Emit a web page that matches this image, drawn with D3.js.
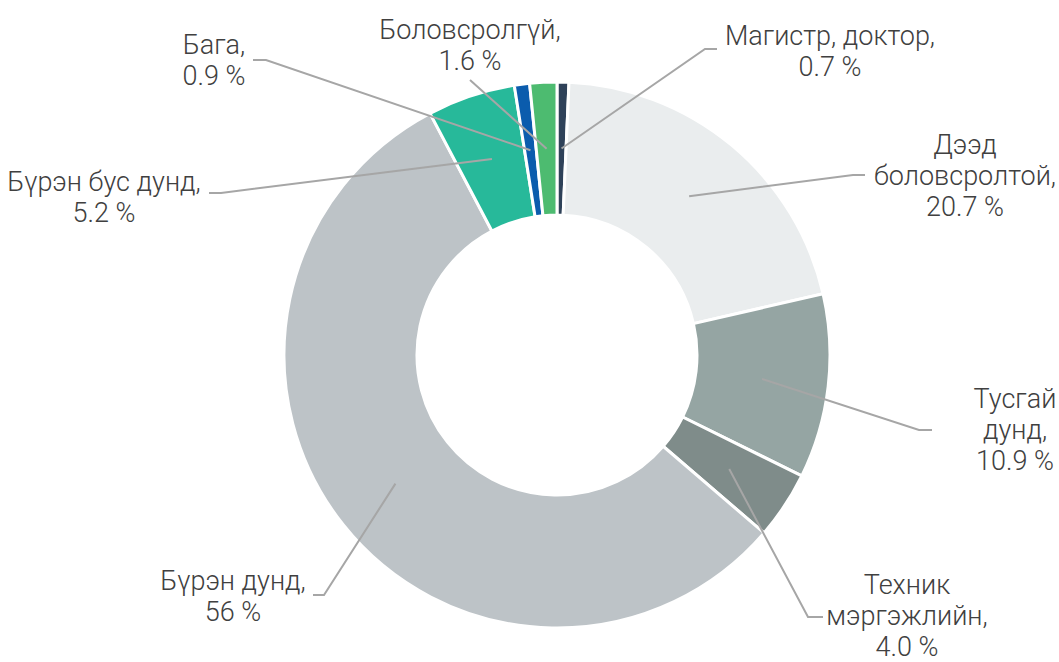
<!DOCTYPE html>
<html>
<head>
<meta charset="utf-8">
<script src="https://cdn.jsdelivr.net/npm/d3@7"></script>
<style>
  html, body { margin: 0; padding: 0; background: #fff; }
  svg text { font-family: Roboto, "Open Sans", sans-serif; font-weight: 300; fill: #404040; }
</style>
</head>
<body>
<div id="chart"></div>
<script>
// data
const categories = ["Магистр, доктор", "Дээд боловсролтой", "Тусгай дунд", "Техник мэргэжлийн",
                    "Бүрэн дунд", "Бүрэн бус дунд", "Бага", "Боловсролгүй"];
const values = [0.7, 20.7, 10.9, 4.0, 56, 5.2, 0.9, 1.6];
const valueLabels = ["0.7 %", "20.7 %", "10.9 %", "4.0 %", "56 %", "5.2 %", "0.9 %", "1.6 %"];
const labelLines = [["Магистр, доктор,"], ["Дээд", "боловсролтой,"], ["Тусгай", "дунд,"], ["Техник", "мэргэжлийн,"],
                    ["Бүрэн дунд,"], ["Бүрэн бус дунд,"], ["Бага,"], ["Боловсролгүй,"]];
const colors = ["#2f4259", "#eaedee", "#95a5a3", "#7f8c8a", "#bdc3c7", "#27b99a", "#0b5cad", "#4dbb70"];

// label placement: text centre x, first line y, elbow x (text side), bend x, elbow y
const labelPos = [
  { x: 830, y: 36, ex: 717, bx: 705, by: 49 },
  { x: 965, y: 145, ex: 865, bx: 853, by: 175 },
  { x: 1015, y: 399, ex: 932, bx: 919, by: 430 },
  { x: 907, y: 585, ex: 823, bx: 808, by: 617 },
  { x: 233, y: 581, ex: 313, bx: 324, by: 595 },
  { x: 104, y: 182, ex: 209, bx: 221, by: 193 },
  { x: 214, y: 45, ex: 253, bx: 266, by: 60 },
  { x: 470, y: 30, ex: 470, bx: 470, by: 80 }
];

const width = 1059, height = 662;
const cx = 557, cy = 355, outerR = 273, innerR = 140;
const lineH = 31;

const svg = d3.select("#chart").append("svg")
    .attr("width", width)
    .attr("height", height);

const pie = d3.pie().sort(null).value(d => d);
const arcs = pie(values);

const arc = d3.arc().innerRadius(innerR).outerRadius(outerR);
const midArc = d3.arc().innerRadius((innerR + outerR) / 2).outerRadius((innerR + outerR) / 2);

const g = svg.append("g").attr("transform", `translate(${cx},${cy})`);

g.selectAll("path.slice")
    .data(arcs)
    .enter().append("path")
    .attr("class", "slice")
    .attr("d", arc)
    .attr("fill", (d, i) => colors[i])
    .attr("stroke", "#fff")
    .attr("stroke-width", 3)
    .attr("stroke-linejoin", "miter");

// leader lines
svg.append("g")
    .selectAll("polyline")
    .data(arcs)
    .enter().append("polyline")
    .attr("points", (d, i) => {
        const c = midArc.centroid(d);
        const p = labelPos[i];
        return [[p.ex, p.by], [p.bx, p.by], [cx + c[0], cy + c[1]]].map(q => q.join(",")).join(" ");
    })
    .attr("fill", "none")
    .attr("stroke", "#a6a6a6")
    .attr("stroke-width", 2);

// labels
const labels = svg.append("g")
    .selectAll("text")
    .data(arcs)
    .enter().append("text")
    .attr("text-anchor", "middle")
    .style("font-size", "27px");

labels.each(function(d, i) {
    const t = d3.select(this);
    const lines = labelLines[i].concat([valueLabels[i]]);
    lines.forEach((s, k) => {
        t.append("tspan")
            .attr("x", labelPos[i].x)
            .attr("y", labelPos[i].y + k * lineH)
            .attr("dy", "0.35em")
            .text(s);
    });
});
</script>
</body>
</html>
